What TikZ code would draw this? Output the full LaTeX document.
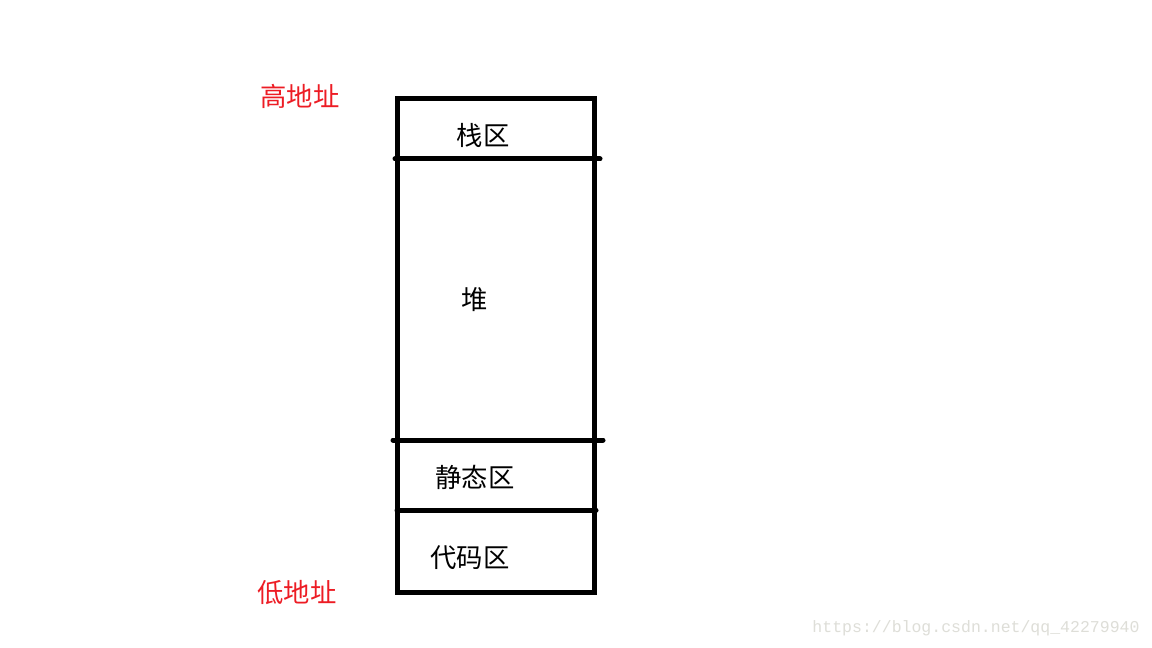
\documentclass[tikz,border=0pt]{standalone}
\usepackage{fontspec}
\setmainfont{Noto Sans CJK SC}
\newfontfamily\wmfont{Liberation Mono}
\definecolor{paintred}{RGB}{237,28,36}
\definecolor{markgray}{RGB}{222,222,216}

\begin{document}
\begin{tikzpicture}[x=0.02cm, y=-0.02cm,
  wall/.style={line width=0.1cm, line cap=round},
  zone/.style={font=\fontsize{15pt}{17pt}\selectfont},
  addr/.style={font=\fontsize{15pt}{17pt}\selectfont, text=paintred}]
  \useasboundingbox[fill=white] (0, 0) rectangle (1152, 648);

  \draw[wall, line cap=butt] (397, 99) rectangle (594, 592);
  \draw[wall] (395, 159) -- (600, 159);
  \draw[wall] (393, 440) -- (603, 440);
  \draw[wall] (397, 510) -- (596, 510);

  \node[zone] (stack) at (483, 135) {栈区};
  \node[zone] (heap) at (475, 300) {堆};
  \node[zone] (static) at (475, 477) {静态区};
  \node[zone] (code) at (470, 558) {代码区};

  \node[addr] (high) at (300, 96) {高地址};
  \node[addr] (low) at (297, 593) {低地址};

  \node[font=\wmfont\fontsize{9.4pt}{11pt}\selectfont, text=markgray] (mark) at (976, 628) {https://blog.csdn.net/qq\_42279940};

\end{tikzpicture}
\end{document}
